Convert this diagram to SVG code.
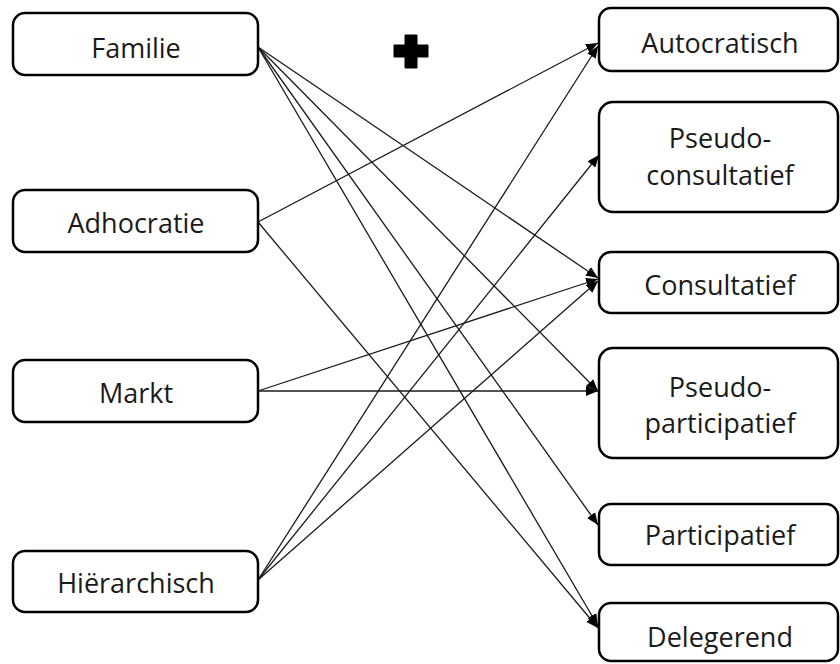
<svg xmlns="http://www.w3.org/2000/svg" width="840" height="664" viewBox="0 0 840 664">
<style>
.box{fill:#fff;stroke:#000;stroke-width:2.5}
.t{font-family:"Open Sans","Liberation Sans",sans-serif;font-size:27px;fill:#1a1a1a;text-anchor:middle}
.c{stroke:#1a1a1a;stroke-width:1.3;fill:none;marker-end:url(#ah)}
</style>
<defs>
<marker id="ah" markerUnits="userSpaceOnUse" markerWidth="14" markerHeight="14" viewBox="0 0 14 14" refX="12" refY="7" orient="auto">
<path d="M0,2 L12,7 L0,12 Z" fill="#000"/>
</marker>
</defs>
<g id="connectors">
<line class="c" x1="258" y1="47" x2="598" y2="278"/>
<line class="c" x1="258" y1="47" x2="598" y2="391"/>
<line class="c" x1="258" y1="47" x2="598" y2="525"/>
<line class="c" x1="258" y1="47" x2="598" y2="626"/>
<line class="c" x1="258" y1="222" x2="598" y2="43"/>
<line class="c" x1="258" y1="222" x2="598" y2="628"/>
<line class="c" x1="258" y1="391" x2="598" y2="279"/>
<line class="c" x1="258" y1="391" x2="598" y2="391"/>
<line class="c" x1="258" y1="580" x2="598" y2="46"/>
<line class="c" x1="258" y1="580" x2="599" y2="155"/>
<line class="c" x1="258" y1="580" x2="598" y2="281"/>
</g>
<g id="plus">
<path d="M405,35 H417 V45 H428 V57 H417 V68 H405 V57 H394 V45 H405 Z" fill="#000" stroke="#000" stroke-width="1" stroke-linejoin="round"/>
</g>
<g id="familie"><rect class="box" x="13" y="13" width="245" height="62" rx="12"/><text class="t" x="136" y="58">Familie</text></g>
<g id="adhocratie"><rect class="box" x="13" y="190" width="245" height="62" rx="12"/><text class="t" x="136" y="233">Adhocratie</text></g>
<g id="markt"><rect class="box" x="13" y="360" width="245" height="62" rx="12"/><text class="t" x="136" y="403">Markt</text></g>
<g id="hierarchisch"><rect class="box" x="13" y="551" width="245" height="61" rx="12"/><text class="t" x="136" y="593">Hiërarchisch</text></g>
<g id="autocratisch"><rect class="box" x="599" y="8" width="239" height="63" rx="12"/><text class="t" x="720" y="53">Autocratisch</text></g>
<g id="pseudo-consultatief"><rect class="box" x="599" y="102" width="239" height="110" rx="14"/><text class="t" x="720" y="148">Pseudo-</text><text class="t" x="720" y="185">consultatief</text></g>
<g id="consultatief"><rect class="box" x="599" y="252" width="239" height="61" rx="12"/><text class="t" x="720" y="295">Consultatief</text></g>
<g id="pseudo-participatief"><rect class="box" x="599" y="348" width="239" height="110" rx="14"/><text class="t" x="720" y="397">Pseudo-</text><text class="t" x="720" y="433">participatief</text></g>
<g id="participatief"><rect class="box" x="599" y="504" width="239" height="61" rx="12"/><text class="t" x="720" y="545">Participatief</text></g>
<g id="delegerend"><rect class="box" x="599" y="603" width="239" height="58" rx="12"/><text class="t" x="720" y="647">Delegerend</text></g>
</svg>
